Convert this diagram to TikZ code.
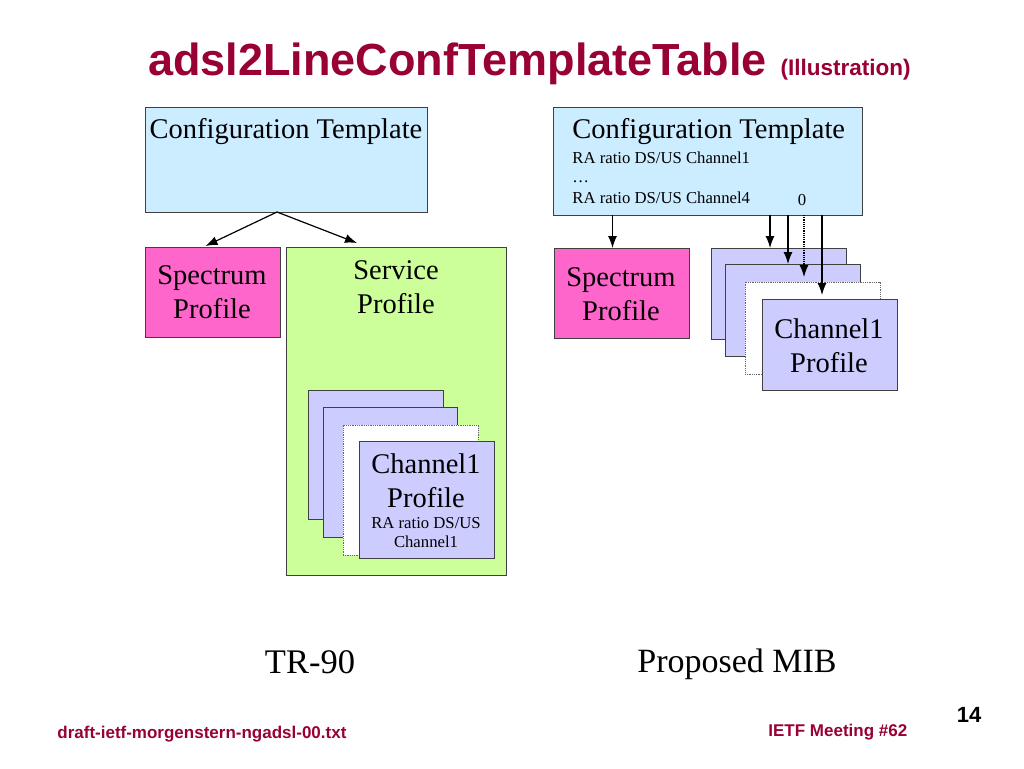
\documentclass[tikz,border=0pt]{standalone}
\usepackage{fontspec}
\setmainfont{Liberation Serif}
\newfontfamily\slidefont{Liberation Sans}
\usetikzlibrary{arrows.meta,calc}
\definecolor{tplblue}{HTML}{CCECFF}
\definecolor{specpink}{HTML}{FF66CC}
\definecolor{servgreen}{HTML}{CCFF99}
\definecolor{chanlilac}{HTML}{CCCCFF}
\definecolor{slidered}{HTML}{990033}

\begin{document}
\begin{tikzpicture}[x=1pt, y=-1pt, line width=0.8pt,
                    box/.style={rectangle, draw=black!75, anchor=north west, inner sep=0pt, outer sep=0pt},
                    template/.style={box, fill=tplblue},
                    spectrum/.style={box, fill=specpink},
                    service/.style={box, fill=servgreen},
                    channel/.style={box, fill=chanlilac},
                    ghost/.style={box, fill=white, draw=black!60, densely dotted},
                    bigtext/.style={font=\fontsize{28.5}{34}\selectfont, align=center, inner sep=0pt},
                    smalltext/.style={font=\fontsize{16.7}{19}\selectfont, align=left, inner sep=0pt},
                    arr/.style={-{Latex[length=12pt,width=9pt]}, line width=1.2pt},
                    ]

\useasboundingbox (0,0) rectangle (1024,768);

% title
\node[anchor=base west, inner sep=0pt, text=slidered, font=\slidefont\bfseries\fontsize{45}{50}\selectfont] (title) at (148,75) {adsl2LineConfTemplateTable};
\node[anchor=base west, inner sep=0pt, text=slidered, font=\slidefont\bfseries\fontsize{22.5}{26}\selectfont] (subtitle) at ([xshift=13pt]title.base east) {(Illustration)};

%% left side: TR-90
\node[template, minimum width=282pt, minimum height=105pt] (tplL) at (145,107) {};
\node[bigtext, anchor=base] (tplLtext) at (286,138) {Configuration Template};

\node[spectrum, minimum width=135pt, minimum height=90pt] (specL) at (145,247) {};
\node[bigtext, anchor=base] (specLtext) at (212,318) {Spectrum\\Profile};

\node[service, minimum width=220pt, minimum height=328pt] (servL) at (286,247) {};
\node[bigtext, anchor=base] (servLtext) at (396,313) {Service\\Profile};

\node[channel, minimum width=135pt, minimum height=129pt] (chLA) at (308,390) {};
\node[channel, minimum width=134pt, minimum height=130pt] (chLB) at (323,407) {};
\node[ghost, minimum width=135pt, minimum height=130pt] (chLC) at (343,425) {};
\node[channel, minimum width=135pt, minimum height=117pt] (chLD) at (359,441) {};
\node[bigtext, anchor=base] (chLDtext) at (426,507) {Channel1\\Profile};
\node[smalltext, align=center, anchor=base] (chLDsub) at (426,547) {RA ratio DS/US\\Channel1};

\coordinate (split) at (277,212);
\draw[arr] (split) -- ([xshift=-7pt,yshift=1pt]specL.north);
\draw[arr] (split) -- ([xshift=71pt,yshift=4pt]servL.north west);

\node[anchor=base, inner sep=0pt, font=\fontsize{34.5}{40}\selectfont] (tr90) at (310,673) {TR-90};

%% right side: proposed MIB
\node[template, minimum width=309pt, minimum height=108pt] (tplR) at (553,107) {};
\node[bigtext, anchor=base west] (tplRtext) at (572,138) {Configuration Template};
\node[smalltext, anchor=base west] (ra1) at (572,163) {RA ratio DS/US Channel1};
\node[smalltext, anchor=base west] (dots) at (572,182) {\dots};
\node[smalltext, anchor=base west] (ra4) at (572,203) {RA ratio DS/US Channel4};
\node[smalltext, anchor=base] (zero) at (802,205) {0};

\node[spectrum, minimum width=135pt, minimum height=90pt] (specR) at (554,248) {};
\node[bigtext, anchor=base] (specRtext) at (621,320) {Spectrum\\Profile};

\node[channel, minimum width=135pt, minimum height=91pt] (chRA) at (711,248) {};
\node[channel, minimum width=135pt, minimum height=92pt] (chRB) at (725,264) {};
\node[ghost, minimum width=135pt, minimum height=92pt] (chRC) at (745,282) {};
\node[channel, minimum width=135pt, minimum height=91pt] (chRD) at (762,299) {};
\node[bigtext, anchor=base] (chRDtext) at (829,372) {Channel1\\Profile};

\coordinate (tipS) at ([xshift=-9pt]specR.north);
\coordinate (tipA) at ([xshift=59pt]chRA.north west);
\coordinate (tipB) at ([xshift=63pt]chRB.north west);
\coordinate (tipC) at ([xshift=59pt,yshift=5pt]chRC.north west);
\coordinate (tipD) at ([xshift=60pt,yshift=4pt]chRD.north west);
\draw[arr] (tplR.south -| tipS) -- (tipS);
\draw[arr] (tplR.south -| tipA) -- (tipA);
\draw[arr] (tplR.south -| tipB) -- (tipB);
\draw[arr, densely dotted] (tplR.south -| tipC) -- (tipC);
\draw[arr] (tplR.south -| tipD) -- (tipD);

\node[anchor=base, inner sep=0pt, font=\fontsize{34}{40}\selectfont] (mib) at (737,672) {Proposed MIB};

%% footer
\node[anchor=base west, inner sep=0pt, text=slidered, font=\slidefont\bfseries\fontsize{17}{20}\selectfont] (draft) at (57,738) {draft-ietf-morgenstern-ngadsl-00.txt};
\node[anchor=base west, inner sep=0pt, text=slidered, font=\slidefont\bfseries\fontsize{17}{20}\selectfont] (meeting) at (768,736) {IETF Meeting \#62};
\node[anchor=base, inner sep=0pt, font=\slidefont\bfseries\fontsize{22}{26}\selectfont] (page) at (969,722) {14};
\end{tikzpicture}
\end{document}
